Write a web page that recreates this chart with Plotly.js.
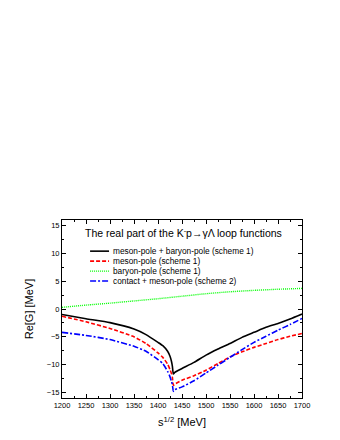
<!DOCTYPE html>
<html>
<head>
<meta charset="utf-8">
<script src="https://cdn.plot.ly/plotly-3.0.1.min.js"></script>
<style>html,body{margin:0;padding:0;background:#fff;}#chart{width:340px;height:440px;}</style>
</head>
<body>
<div id="chart"></div>
<script>
// sqrt(s) [MeV] and Re[G] [MeV] values
const xBlack = [1200,1250,1300,1350,1375,1400,1410,1420,1425,1428,1430,1432,1435,1450,1475,1500,1525,1550,1575,1600,1625,1650,1675,1700];
const yBlack = [-1.0,-1.75,-2.45,-3.6,-4.6,-6.0,-6.6,-7.6,-8.5,-9.4,-10.3,-11.7,-11.4,-10.7,-9.6,-8.3,-7.2,-6.2,-5.1,-4.2,-3.3,-2.6,-1.8,-0.9];
const xRed = [1200,1250,1300,1350,1375,1400,1410,1420,1425,1428,1430,1432,1435,1450,1475,1500,1525,1550,1575,1600,1625,1650,1675,1700];
const yRed = [-1.3,-2.3,-3.5,-5.0,-6.2,-7.9,-8.7,-9.9,-10.9,-11.6,-12.3,-13.7,-13.5,-12.8,-12.0,-11.0,-9.8,-8.6,-7.7,-6.9,-6.2,-5.5,-4.9,-4.4];
const xGreen = [1200,1250,1300,1350,1400,1450,1500,1550,1600,1650,1700];
const yGreen = [0.3,0.7,1.05,1.45,1.85,2.3,2.75,3.1,3.35,3.55,3.7];
const xBlue = [1200,1250,1300,1350,1375,1400,1410,1420,1425,1428,1430,1432,1435,1450,1475,1500,1525,1550,1575,1600,1625,1650,1675,1700];
const yBlue = [-4.2,-4.75,-5.5,-6.7,-7.6,-9.1,-9.8,-11.2,-12.2,-13.0,-13.6,-14.8,-14.5,-14.0,-12.9,-11.5,-10.1,-8.7,-7.3,-6.0,-4.9,-3.8,-2.8,-1.7];
const names = ["meson-pole + baryon-pole (scheme 1)","meson-pole (scheme 1)","baryon-pole (scheme 1)","contact + meson-pole (scheme 2)"];
const titleText = "The real part of the K<sup>-</sup>p\u2192\u03b3\u039b loop functions";

const FONT = "Liberation Sans, Arial, sans-serif";
const styles = [
  {color:"#000000", width:1.6, dash:"solid"},
  {color:"#ff0000", width:1.6, dash:"4px,2px"},
  {color:"#00ff00", width:1.4, dash:"1px,1px"},
  {color:"#0000ff", width:1.6, dash:"6px,2px,2px,2px"}
];
const seriesX = [xBlack, xRed, xGreen, xBlue];
const seriesY = [yBlack, yRed, yGreen, yBlue];

const traces = seriesX.map((xs, i) => ({
  x: xs, y: seriesY[i], name: names[i], mode: "lines",
  line: Object.assign({shape:"spline", smoothing:0.5}, styles[i]), showlegend: false
}));

// manual legend (sample line + label), positioned in paper coords
const legendY = [0.825, 0.769, 0.713, 0.657];
const shapes = [];
const annotations = [{text:titleText, xref:"paper", yref:"paper", x:0.508, y:0.929, xanchor:"center", yanchor:"middle",
  showarrow:false, font:{size:10.5, family:FONT, color:"#000"}}];
names.forEach((n, i) => {
  shapes.push({type:"line", xref:"paper", yref:"paper", x0:0.117, x1:0.196, y0:legendY[i], y1:legendY[i],
    line:{color:styles[i].color, width:styles[i].width, dash:styles[i].dash}});
  annotations.push({text:n, xref:"paper", yref:"paper", x:0.204, y:legendY[i], xanchor:"left", yanchor:"middle",
    showarrow:false, font:{size:8.3, family:FONT, color:"#000"}});
});

const axisCommon = {
  showgrid:false, zeroline:false, showline:true, linecolor:"#000", linewidth:1,
  mirror:"allticks", ticks:"inside", ticklen:4, tickwidth:1, tickcolor:"#000",
  tickfont:{family:FONT, size:7.5, color:"#000"}
};

const layout = {
  width:340, height:440,
  margin:{l:62, r:38, t:220, b:42, pad:0},
  paper_bgcolor:"#fff", plot_bgcolor:"#fff",
  font:{family:FONT, color:"#000"},
  xaxis:Object.assign({}, axisCommon, {
    range:[1200,1700], dtick:50, tick0:1200,
    minor:{dtick:25, ticks:"inside", ticklen:2, tickcolor:"#000"},
    title:{text:"s<sup>1/2</sup> [MeV]", font:{size:11}, standoff:9}
  }),
  yaxis:Object.assign({}, axisCommon, {
    range:[-16,16], dtick:5, tick0:0,
    minor:{dtick:2.5, ticks:"inside", ticklen:2, tickcolor:"#000"},
    title:{text:"Re[G] [MeV]", font:{size:11}, standoff:10}
  }),
  showlegend:false,
  shapes: shapes,
  annotations: annotations
};

Plotly.newPlot("chart", traces, layout, {displayModeBar:false, staticPlot:true});
</script>
</body>
</html>
